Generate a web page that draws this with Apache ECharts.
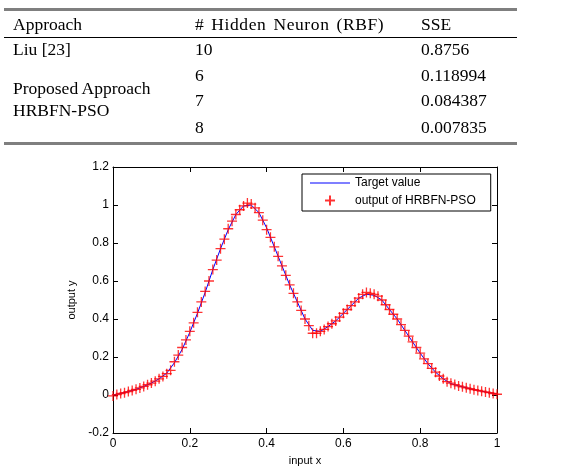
<!DOCTYPE html>
<html>
<head>
<meta charset="utf-8">
<script src="https://cdn.jsdelivr.net/npm/echarts@6/dist/echarts.min.js"></script>
<style>
  html, body { margin: 0; padding: 0; background: #fff; }
  #wrap { position: relative; width: 568px; height: 472px; }
  #chart { position: absolute; left: 0; top: 0; width: 568px; height: 472px; }
  .tbl { position: absolute; left: 0; top: 0; width: 568px; height: 150px; z-index: 2;
         font-family: "Liberation Serif", "DejaVu Serif", serif; font-size: 17.5px; color: #000; }
  .tbl span { position: absolute; line-height: 20px; white-space: nowrap; }
  .rule { position: absolute; left: 4px; width: 513px; }
</style>
</head>
<body>
<div id="wrap">
  <div id="chart"></div>
  <div class="tbl" id="tbl"></div>
</div>
<script>
// table contents
var tableHeader = ['Approach', '# Hidden Neuron (RBF)', 'SSE'];
var neurons = ['10', '6', '7', '8'];
var sse = ['0.8756', '0.118994', '0.084387', '0.007835'];

// curve: target value, sampled every 0.02
var targetX = [0, 0.02, 0.04, 0.06, 0.08, 0.10, 0.12, 0.14, 0.16, 0.18, 0.20, 0.22, 0.24, 0.26, 0.28, 0.30,
    0.32, 0.34, 0.36, 0.38, 0.40, 0.42, 0.44, 0.46, 0.48, 0.50, 0.52, 0.54, 0.56, 0.58, 0.60, 0.62, 0.64,
    0.66, 0.68, 0.70, 0.72, 0.74, 0.76, 0.78, 0.80, 0.82, 0.84, 0.86, 0.88, 0.90, 0.92, 0.94, 0.96, 0.98, 1.00];
var targetY = [0.000, 0.008, 0.018, 0.030, 0.045, 0.063, 0.085, 0.115, 0.170, 0.240, 0.330, 0.430, 0.540,
    0.660, 0.770, 0.870, 0.950, 0.995, 1.000, 0.960, 0.880, 0.780, 0.680, 0.580, 0.490, 0.400, 0.340, 0.335,
    0.360, 0.390, 0.430, 0.470, 0.510, 0.530, 0.525, 0.500, 0.450, 0.400, 0.340, 0.280, 0.220, 0.165, 0.120,
    0.085, 0.060, 0.048, 0.038, 0.028, 0.020, 0.012, 0.005];

// network output, every 0.01
var outX = [];
for (var i = 0; i <= 100; i++) outX.push(i / 100);
var outY = [-0.005, 0.002, 0.008, 0.012, 0.018, 0.024, 0.030, 0.037, 0.045, 0.054,
    0.063, 0.073, 0.085, 0.098, 0.112, 0.130, 0.175, 0.210, 0.250, 0.290,
    0.335, 0.380, 0.435, 0.490, 0.545, 0.600, 0.660, 0.710, 0.770, 0.820,
    0.875, 0.915, 0.950, 0.975, 0.995, 1.010, 1.005, 0.985, 0.960, 0.920,
    0.870, 0.830, 0.780, 0.730, 0.680, 0.630, 0.580, 0.535, 0.490, 0.445,
    0.400, 0.365, 0.325, 0.325, 0.335, 0.345, 0.360, 0.375, 0.390, 0.410,
    0.430, 0.450, 0.470, 0.490, 0.510, 0.530, 0.540, 0.535, 0.530, 0.520,
    0.500, 0.475, 0.450, 0.425, 0.400, 0.370, 0.340, 0.310, 0.280, 0.250,
    0.220, 0.190, 0.165, 0.140, 0.120, 0.100, 0.085, 0.070, 0.062, 0.055,
    0.048, 0.043, 0.038, 0.033, 0.028, 0.024, 0.020, 0.016, 0.012, 0.008, 0.004];

// ---- table (plain html) ----
var tbl = document.getElementById('tbl');
function put(txt, x, y, extra) {
    var s = document.createElement('span');
    s.textContent = txt;
    s.style.left = x + 'px';
    s.style.top = (y - 10) + 'px';
    if (extra) s.style.cssText += extra;
    tbl.appendChild(s);
}
function rule(y, h, c) {
    var d = document.createElement('div');
    d.className = 'rule';
    d.style.top = y + 'px';
    d.style.height = h + 'px';
    d.style.background = c;
    tbl.appendChild(d);
}
rule(8, 3, '#7f7f7f');
rule(37, 1, '#000');
rule(142, 3, '#7f7f7f');
put(tableHeader[0], 13, 24);
put(tableHeader[1], 195, 24, 'letter-spacing:0.6px;word-spacing:2px;');
put(tableHeader[2], 421, 24);
put('Liu [23]', 13, 49);
put('Proposed Approach', 13, 88);
put('HRBFN-PSO', 13, 110);
var rowY = [49, 75, 100, 127];
for (var r = 0; r < neurons.length; r++) {
    put(neurons[r], 195, rowY[r]);
    put(sse[r], 421, rowY[r]);
}

// ---- chart ----
var lineData = targetX.map(function (x, k) { return [x, targetY[k]]; });
var outData = outX.map(function (x, k) { return [x, outY[k]]; });

var font = 'Liberation Sans, Arial, sans-serif';
var axisCommon = {
    type: 'value',
    axisLine: { show: true, onZero: false, lineStyle: { color: '#000', width: 1 } },
    axisTick: { show: true, inside: true, length: 5, lineStyle: { color: '#000' } },
    splitLine: { show: false }
};

var myChart = echarts.init(document.getElementById('chart'));
myChart.setOption({
    animation: false,
    backgroundColor: '#fff',
    grid: { left: 113, right: 71, top: 167, bottom: 39 },
    legend: {
        orient: 'vertical',
        left: 302,
        top: 174,
        backgroundColor: '#fff',
        borderColor: '#000',
        borderWidth: 1,
        padding: [3, 15, 3, 8],
        itemWidth: 40,
        itemHeight: 10,
        itemGap: 4,
        textStyle: { fontFamily: font, fontSize: 12, color: '#000' },
        data: [
            { name: 'Target value', icon: 'path://M0,4.6L40,4.6L40,5.4L0,5.4ZM0,0L0.01,0ZM0,10L0.01,10Z' },
            'output of HRBFN-PSO'
        ]
    },
    xAxis: [
        Object.assign({}, axisCommon, {
            min: 0, max: 1, interval: 0.2, position: 'bottom',
            name: 'input x', nameLocation: 'middle', nameGap: 22,
            nameTextStyle: { fontFamily: font, fontSize: 11, color: '#000' },
            axisLabel: { fontFamily: font, fontSize: 12, color: '#000', margin: 5 }
        }),
        Object.assign({}, axisCommon, {
            min: 0, max: 1, interval: 0.2, position: 'top',
            axisLabel: { show: false }
        })
    ],
    yAxis: [
        Object.assign({}, axisCommon, {
            min: -0.2, max: 1.2, interval: 0.2, position: 'left',
            name: 'output y', nameLocation: 'middle', nameGap: 36,
            nameTextStyle: { fontFamily: font, fontSize: 11, color: '#000' },
            axisLabel: {
                fontFamily: font, fontSize: 12, color: '#000', margin: 4,
                formatter: function (v) { return String(Math.round(v * 10) / 10); }
            }
        }),
        Object.assign({}, axisCommon, {
            min: -0.2, max: 1.2, interval: 0.2, position: 'right',
            axisLabel: { show: false }
        })
    ],
    series: [
        {
            name: 'Target value',
            type: 'line',
            data: lineData,
            symbol: 'none',
            lineStyle: { color: '#0000ff', width: 1 },
            itemStyle: { color: '#0000ff' },
            z: 2
        },
        {
            name: 'output of HRBFN-PSO',
            type: 'scatter',
            data: outData,
            symbol: 'path://M0,5L10,5M5,0L5,10',
            symbolSize: 10,
            itemStyle: { color: 'none', borderColor: '#ff0000', borderWidth: 1.3 },
            z: 3
        }
    ]
});
</script>
</body>
</html>
